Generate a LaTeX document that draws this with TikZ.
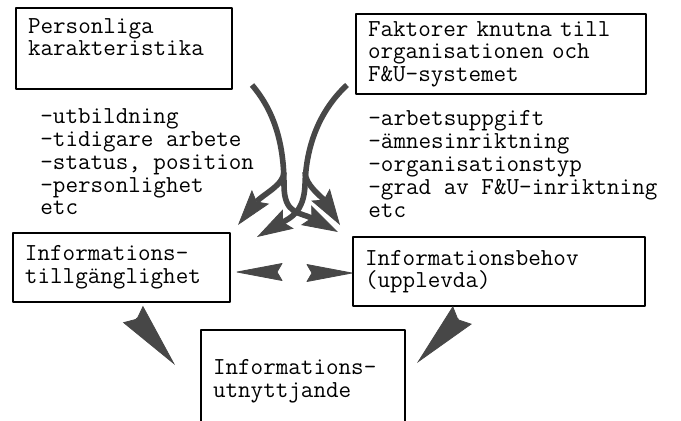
\documentclass[tikz,border=0pt]{standalone}
\usetikzlibrary{arrows.meta}
\definecolor{tone}{gray}{0.28}
\newcommand\typewr{\ttfamily\fontsize{12.2}{11.3}\selectfont}
\newcommand\listwr{\ttfamily\fontsize{12.2}{11.4}\selectfont}

\begin{document}
\begin{tikzpicture}[x=0.5pt,y=-0.5pt,line cap=round,line join=round,
  box/.style={draw,line width=0.6pt,inner xsep=6pt,inner ysep=2pt,align=left,font=\typewr},
  list/.style={inner sep=0pt,anchor=west,align=left,font=\listwr},
  flow/.style={draw=tone,line width=2.8pt,line cap=butt,
    -{Stealth[length=18pt,width=11pt,inset=3pt,line width=0.4pt,fill=tone]}},
  wedge/.style={fill=tone,draw=tone,line width=0.4pt},
  spike/.style={draw=tone,line width=0.4pt,line cap=butt,
    -{Stealth[length=33pt,width=13pt,inset=3pt,fill=tone]}}]
  % white page, fixed size
  \fill[white] (0,0) rectangle (681,420);
  \useasboundingbox (0,0) rectangle (681,420);

  % boxes
  \node[box,text width=96pt,minimum height=40.5pt] (pk) at (124,48.5) {Personliga\\karakteristika\\\mbox{}};
  \node[box,text width=133pt,minimum height=40pt] (fk) at (501,54) {Faktorer knutna till\\organisationen och\\F\&U-systemet};
  \node[box,text width=96.5pt,minimum height=34.5pt] (tg) at (121.5,267.5) {Informations-\\tillgänglighet};
  \node[box,text width=134pt,minimum height=34.5pt] (ib) at (499,271.5) {Informationsbehov\\(upplevda)};
  \node[box,text width=90pt,minimum height=60pt] (iu) at (303,390) {Informations-\\utnyttjande\\\mbox{}};

  % lists
  \node[list] (pkl) at (40,162) {-utbildning\\-tidigare arbete\\-status, position\\-personlighet\\etc};
  \node[list] (fkl) at (368,164) {-arbetsuppgift\\-ämnesinriktning\\-organisationstyp\\-grad av F\&U-inriktning\\etc};

  % curved arrows
  \coordinate (pkout) at (252,85);
  \coordinate (fkout) at (347,85);
  \coordinate (pktip) at (338,232);
  \coordinate (fktip) at (257,237);
  \draw[flow] (pkout) .. controls (275,112) and (284,145) .. (284,185)
    .. controls (284,215) and (300,212) .. (pktip);
  \draw[flow] (284,172) .. controls (284,185) and (262,195) .. (238,225);
  \draw[flow] (fkout) .. controls (320,110) and (306,145) .. (305,185)
    .. controls (304,212) and (290,218) .. (fktip);
  \draw[flow] (305,172) .. controls (305,185) and (322,197) .. (340,225);

  % wedges between the lower boxes
  \draw[wedge] (237,272) -- (282,263.5) -- (277,272) -- (282,280.5) -- cycle;
  \draw[wedge] (352,273) -- (307,264.5) -- (312,273) -- (307,281.5) -- cycle;
  \coordinate (tgback) at (136.1,318);
  \coordinate (ibback) at (458.9,318.7);
  \draw[spike] (tgback) -- (175,365);
  \draw[spike] (ibback) -- (417,363);
\end{tikzpicture}
\end{document}
